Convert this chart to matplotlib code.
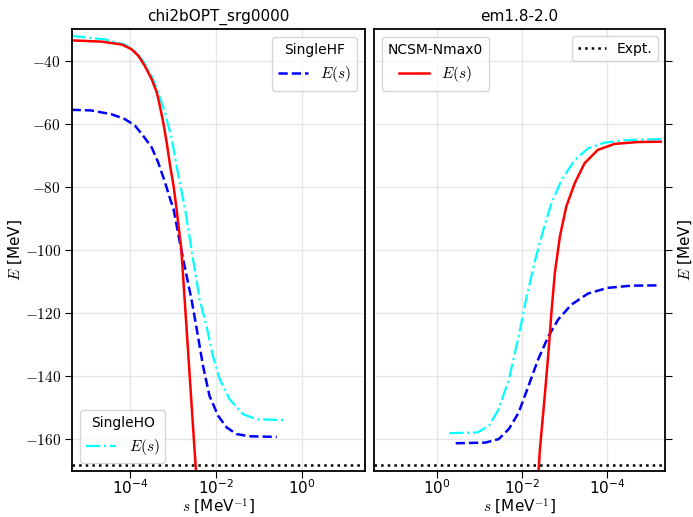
import numpy as np
import matplotlib
matplotlib.use("Agg")
import matplotlib.pyplot as plt
from matplotlib.ticker import FixedLocator, NullLocator, LogFormatterMathtext, FuncFormatter

plt.rcParams['mathtext.fontset'] = 'cm'
plt.rcParams['font.family'] = ['DejaVu Sans']

# left panel: chi2bOPT_srg0000  (log10 s, E in MeV)
ho_l_logs = [-5.37, -4.59, -4.13, -3.89, -3.70, -3.50, -3.35, -3.19, -3.03, -2.92, -2.80, -2.72,
             -2.57, -2.38, -2.22, -2.07, -1.91, -1.68, -1.37, -1.05, -0.39]
ho_l_E = [-32.2, -33.3, -34.9, -37.0, -40.1, -44.9, -50.1, -56.4, -64.9, -73.3, -81.7, -87.0,
          -99.9, -115.7, -124.1, -133.6, -141.0, -147.3, -152.0, -153.6, -153.9]

hf_l_logs = [-5.37, -4.91, -4.44, -4.13, -3.89, -3.70, -3.50, -3.35, -3.19, -3.07, -2.99, -2.81,
             -2.57, -2.46, -2.30, -2.15, -1.95, -1.75, -1.52, -1.21, -0.58]
hf_l_E = [-55.6, -55.8, -57.0, -58.5, -60.6, -63.8, -67.5, -72.2, -78.5, -83.8, -87.0, -99.9,
          -115.7, -124.1, -136.8, -146.2, -152.5, -156.2, -158.3, -159.0, -159.2]

ncsm_l_logs = [-5.37, -4.67, -4.20, -3.97, -3.81, -3.66, -3.50, -3.38, -3.31, -3.23, -3.15, -3.07,
               -2.99, -2.92, -2.81, -2.73, -2.50, -2.40]
ncsm_l_E = [-33.6, -34.0, -34.9, -36.4, -38.5, -41.7, -45.9, -50.1, -54.3, -59.6, -65.9, -73.3,
            -79.6, -87.0, -99.5, -115.7, -163.1, -183.0]

# right panel: em1.8-2.0
ho_r_logs = [-0.29, -0.95, -1.22, -1.45, -1.69, -1.92, -2.11, -2.31, -2.50, -2.69, -2.93, -3.24,
             -3.55, -3.94, -4.41, -5.26]
ho_r_E = [-158.0, -157.8, -155.7, -150.4, -141.0, -127.3, -114.6, -103.1, -93.6, -85.2, -77.8, -71.5,
          -67.8, -66.0, -65.2, -64.9]

hf_r_logs = [-0.44, -1.14, -1.45, -1.69, -1.92, -2.15, -2.38, -2.62, -2.85, -3.16, -3.55, -4.01,
             -4.56, -5.22]
hf_r_E = [-161.2, -161.0, -159.9, -156.7, -151.5, -143.1, -134.6, -127.3, -122.0, -117.3, -113.8, -112.0,
          -111.3, -111.2]

ncsm_r_logs = [-2.33, -2.42, -2.54, -2.62, -2.69, -2.77, -2.89, -3.04, -3.24, -3.47, -3.78, -4.17,
               -4.72, -5.26]
ncsm_r_E = [-183.0, -163.1, -145.2, -132.5, -119.9, -107.3, -95.7, -86.2, -78.8, -72.5, -68.3, -66.4,
            -65.8, -65.7]

expt = -168.2

fig = plt.figure(figsize=(6.93, 5.17), dpi=100)
W, H = 693, 517
ax1 = fig.add_axes([72 / W, (H - 471) / H, (365 - 72) / W, (471 - 29) / H])
ax2 = fig.add_axes([374 / W, (H - 471) / H, (665 - 374) / W, (471 - 29) / H])

xlim = (10 ** -5.36, 10 ** 1.48)

def s(v):
    return 10 ** np.array(v)

for ax in (ax1, ax2):
    ax.set_xscale('log')
    ax.set_xlim(*xlim)
    ax.set_ylim(-170, -30)
    ax.xaxis.set_major_locator(FixedLocator([1e-4, 1e-2, 1e0]))
    ax.xaxis.set_major_formatter(LogFormatterMathtext())
    ax.xaxis.set_minor_locator(NullLocator())
    ax.set_yticks([-40, -60, -80, -100, -120, -140, -160])
    ax.yaxis.set_major_formatter(FuncFormatter(lambda v, p: r'$%d$' % v))
    ax.grid(True, color='#e6e6e6', lw=1.0)
    ax.set_axisbelow(True)
    for sp in ax.spines.values():
        sp.set_linewidth(1.3)
    ax.tick_params(labelsize=11, direction='out', length=5, pad=3)
    ax.tick_params(axis='x', pad=0)
    ax.set_xlabel(r'$s$ [MeV$^{-1}$]', fontsize=11)
    ax.xaxis.set_label_coords(0.5, -0.058)

# left
l_hf, = ax1.plot(s(hf_l_logs), hf_l_E, color='blue', ls='--', lw=1.8, label='$E(s)$')
l_ho, = ax1.plot(s(ho_l_logs), ho_l_E, color='cyan', ls='-.', lw=1.6, label='$E(s)$')
ax1.plot(s(ncsm_l_logs), ncsm_l_E, color='red', ls='-', lw=1.8)
ax1.axhline(expt, color='black', ls=':', lw=1.8)
leg1 = ax1.legend(handles=[l_hf], title='SingleHF', loc='upper right', fontsize=11, title_fontsize=10)
ax1.add_artist(leg1)
ax1.legend(handles=[l_ho], title='SingleHO', loc='lower left', fontsize=11, title_fontsize=10)
ax1.set_title('chi2bOPT_srg0000', fontsize=11)
ax1.set_ylabel(r'$E$ [MeV]', fontsize=11)
ax1.yaxis.set_label_coords(-0.164, 0.5)

# right
ax2.plot(s(hf_r_logs), hf_r_E, color='blue', ls='--', lw=1.8)
ax2.plot(s(ho_r_logs), ho_r_E, color='cyan', ls='-.', lw=1.6)
l_nc, = ax2.plot(s(ncsm_r_logs), ncsm_r_E, color='red', ls='-', lw=1.8, label='$E(s)$')
l_ex = ax2.axhline(expt, color='black', ls=':', lw=1.8, label='Expt.')
ax2.invert_xaxis()
ax2.yaxis.tick_right()
ax2.yaxis.set_label_position('right')
ax2.tick_params(axis='y', labelright=False)
ax2.set_ylabel(r'$E$ [MeV]', fontsize=11)
ax2.yaxis.set_label_coords(1.041, 0.5)
leg2 = ax2.legend(handles=[l_nc], title='NCSM-Nmax0', loc='upper left', fontsize=11, title_fontsize=10)
ax2.add_artist(leg2)
ax2.legend(handles=[l_ex], loc='upper right', fontsize=10)
ax2.set_title('em1.8-2.0', fontsize=11)

fig.savefig('out.png', dpi=100)
